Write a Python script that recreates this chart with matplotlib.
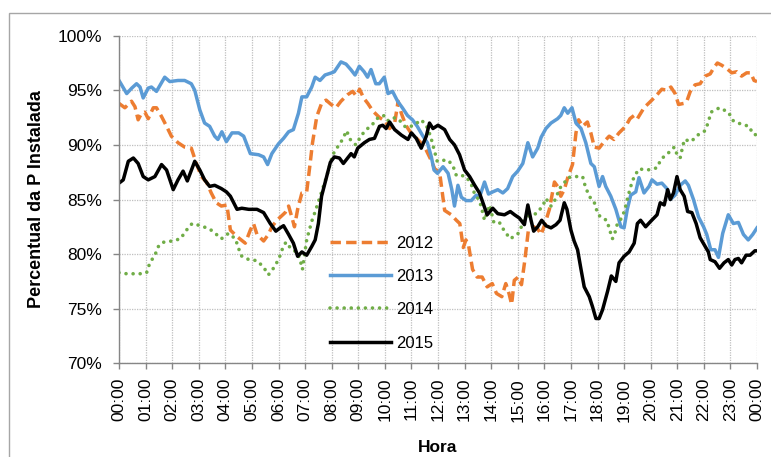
import matplotlib
matplotlib.use("Agg")
import matplotlib.pyplot as plt
from matplotlib.patches import Rectangle

plt.rcParams['font.family'] = ['Liberation Sans', 'DejaVu Sans']

# hour of day (0-24) and % of installed power
h_2012 = [0.0, 0.22, 0.47, 0.6, 0.72, 0.85, 0.97, 1.1, 1.29, 1.41, 1.6, 1.79, 1.97, 2.22, 2.47,
          2.72, 2.91, 3.1, 3.29, 3.47, 3.66, 3.85, 4.06, 4.19, 4.44, 4.75, 4.94, 5.06, 5.19, 5.44,
          5.62, 5.75, 5.94, 6.25, 6.38, 6.5, 6.6, 6.72, 6.88, 7.06, 7.19, 7.28, 7.44, 7.62, 7.79,
          7.98, 8.16, 8.35, 8.6, 8.79, 8.92, 9.05, 9.2, 9.36, 9.55, 9.8, 10.0, 10.18, 10.37, 10.5,
          10.62, 10.79, 10.98, 11.16, 11.35, 11.54, 11.72, 11.88, 12.06, 12.25, 12.5, 12.69, 12.82,
          12.95, 13.05, 13.15, 13.3, 13.47, 13.66, 13.85, 14.04, 14.2, 14.4, 14.55, 14.67, 14.77,
          14.87, 15.02, 15.14, 15.27, 15.4, 15.6, 15.75, 15.88, 16.0, 16.19, 16.38, 16.5, 16.62,
          16.75, 16.88, 17.06, 17.19, 17.29, 17.44, 17.62, 17.75, 17.88, 18.06, 18.25, 18.44, 18.62,
          18.81, 19.06, 19.22, 19.38, 19.5, 19.75, 20.0, 20.17, 20.42, 20.61, 20.76, 20.92, 21.05,
          21.24, 21.36, 21.49, 21.67, 21.86, 22.05, 22.24, 22.36, 22.51, 22.67, 22.86, 23.05, 23.24,
          23.42, 23.61, 23.76, 23.89, 24.0]
p_2012 = [93.8, 93.4, 94.0, 93.5, 92.3, 92.9, 93.0, 92.4, 93.4, 93.4, 92.6, 91.7, 90.8, 90.2, 89.8,
          89.7, 88.3, 87.1, 86.6, 85.6, 84.7, 84.4, 84.5, 82.2, 81.6, 81.0, 82.2, 82.8, 81.8, 81.2,
          81.8, 82.5, 83.1, 83.8, 84.4, 83.4, 82.5, 84.1, 85.6, 85.7, 88.3, 90.2, 92.6, 93.8, 94.1,
          93.7, 93.4, 94.0, 94.6, 94.9, 94.5, 95.1, 94.3, 93.8, 93.1, 92.5, 92.2, 91.5, 92.0, 94.0,
          92.9, 91.8, 91.1, 90.7, 90.2, 89.6, 88.7, 87.8, 87.5, 84.0, 83.6, 83.1, 82.8,
          80.6, 81.3, 80.8, 78.6, 77.9, 77.9, 77.0, 77.3, 76.4, 76.1, 77.3, 76.4, 75.4,
          77.6, 77.9, 77.2, 79.5, 82.2, 82.5, 82.3, 81.8, 82.6, 84.1, 86.6, 86.2, 85.3,
          85.9, 87.0, 88.2, 91.1, 92.3, 91.7, 92.1, 91.1, 89.8, 89.7, 90.3, 90.8, 90.5,
          91.1, 91.7, 92.4, 92.7, 92.4, 93.4, 94.0, 94.4, 95.1, 95.0, 95.3, 94.7, 93.7,
          93.8, 94.0, 94.9, 95.5, 95.6, 96.3, 96.5, 97.0, 97.5, 97.3, 97.0, 96.6, 96.7,
          96.3, 96.6, 96.6, 95.9, 95.8]

h_2013 = [0.0, 0.29, 0.48, 0.66, 0.79, 0.91, 1.1, 1.22, 1.41, 1.72, 1.91, 2.22, 2.47, 2.72, 2.85,
          3.04, 3.22, 3.41, 3.6, 3.72, 3.87, 4.04, 4.25, 4.5, 4.69, 4.94, 5.25, 5.44, 5.59, 5.75,
          6.0, 6.19, 6.38, 6.56, 6.75, 6.88, 7.06, 7.25, 7.38, 7.56, 7.75, 8.0, 8.1, 8.35, 8.54,
          8.72, 8.88, 9.04, 9.22, 9.35, 9.48, 9.66, 9.79, 9.98, 10.12, 10.29, 10.48, 10.66, 10.85,
          11.04, 11.22, 11.41, 11.6, 11.75, 11.85, 11.98, 12.19, 12.38, 12.52, 12.62, 12.75, 12.88,
          13.06, 13.25, 13.44, 13.56, 13.75, 13.9, 14.06, 14.25, 14.44, 14.62, 14.81, 15.0, 15.19,
          15.38, 15.56, 15.75, 15.88, 16.06, 16.25, 16.5, 16.62, 16.75, 16.88, 17.04, 17.19, 17.38,
          17.56, 17.75, 17.88, 18.06, 18.19, 18.31, 18.5, 18.69, 18.88, 19.0, 19.12, 19.25, 19.44,
          19.56, 19.75, 19.94, 20.05, 20.24, 20.42, 20.61, 20.74, 20.92, 21.11, 21.3, 21.42, 21.61,
          21.8, 21.99, 22.11, 22.26, 22.42, 22.55, 22.71, 22.92, 23.11, 23.3, 23.49, 23.67, 23.84,
          24.0]
p_2013 = [95.9, 94.7, 95.2, 95.6, 95.3, 94.3, 95.2, 95.3, 94.9, 96.2, 95.8, 95.9, 95.9, 95.6, 95.0,
          93.2, 92.0, 91.7, 90.8, 90.5, 91.2, 90.3, 91.1, 91.1, 90.8, 89.2, 89.1, 88.9, 88.2, 89.2,
          90.1, 90.6, 91.2, 91.4, 92.9, 94.4, 94.4, 95.3, 96.2, 95.9, 96.4, 96.6, 96.7, 97.6, 97.4,
          96.9, 96.4, 97.2, 96.7, 96.2, 96.9, 95.6, 95.6, 96.2, 94.7, 94.9, 94.0, 93.4, 92.7,
          92.3, 91.7, 90.9, 90.2, 88.9, 87.7, 87.4, 88.0, 87.4, 85.9, 84.4, 86.3, 85.2,
          84.9, 84.9, 85.4, 85.2, 86.6, 85.5, 85.7, 85.9, 85.6, 86.0, 87.1, 87.6, 88.3,
          90.2, 88.9, 89.7, 90.7, 91.5, 92.0, 92.4, 92.7, 93.4, 92.9, 93.4, 92.0, 91.5,
          90.2, 88.3, 88.0, 86.2, 87.1, 86.2, 85.3, 84.1, 82.5, 82.4, 84.1, 85.4, 85.7,
          87.0, 85.6, 86.2, 86.8, 86.4, 86.5, 86.0, 85.0, 85.4, 86.3, 86.7, 86.3, 85.0,
          83.4, 82.5, 81.8, 80.4, 80.4, 79.7, 81.9, 83.6, 82.8, 82.9, 81.8, 81.3, 81.8,
          82.4]

h_2014 = [0.0, 0.29, 0.54, 0.79, 1.04, 1.16, 1.35, 1.5, 1.69, 2.0, 2.31, 2.54, 2.75, 3.07, 3.41,
          3.62, 3.85, 4.12, 4.38, 4.5, 4.62, 4.88, 5.19, 5.44, 5.62, 5.84, 6.02, 6.15, 6.28, 6.5,
          6.69, 6.81, 6.9, 7.06, 7.15, 7.25, 7.38, 7.5, 7.62, 7.81, 8.04, 8.22, 8.41, 8.56, 8.72,
          8.91, 9.1, 9.29, 9.48, 9.7, 9.95, 10.1, 10.29, 10.5, 10.79, 10.98, 11.16, 11.35, 11.54,
          11.72, 11.85, 11.97, 12.25, 12.38, 12.56, 12.69, 12.88, 13.06, 13.25, 13.38, 13.56, 13.65,
          13.75, 13.94, 14.1, 14.31, 14.5, 14.72, 15.02, 15.31, 15.5, 15.69, 15.94, 16.06, 16.25,
          16.44, 16.56, 16.69, 16.88, 17.12, 17.44, 17.54, 17.69, 17.91, 18.0, 18.16, 18.35, 18.46,
          18.56, 18.65, 18.75, 18.94, 19.06, 19.15, 19.25, 19.38, 19.56, 19.88, 20.24, 20.39, 20.64,
          20.89, 21.01, 21.11, 21.2, 21.27, 21.52, 21.77, 22.05, 22.17, 22.27, 22.59, 22.92, 23.11,
          23.4, 23.71, 23.84, 24.0]
p_2014 = [78.3, 78.2, 78.2, 78.2, 78.3, 79.2, 79.9, 80.8, 81.1, 81.2, 81.4, 82.2, 82.8, 82.6, 82.3,
          81.9, 81.4, 81.9, 81.4, 80.5, 79.8, 79.5, 79.4, 78.8, 78.1, 78.8, 79.6, 80.5, 81.1, 80.4,
          80.2, 79.5, 78.6, 81.3, 82.1, 83.0, 83.9, 84.8, 85.7, 87.1, 89.1, 89.8, 90.5, 91.3, 90.4,
          90.0, 90.8, 91.4, 91.7, 92.4, 92.7, 92.2, 92.5, 92.4, 91.6, 91.7, 91.9, 92.3, 91.9,
          90.8, 89.6, 88.5, 88.6, 88.6, 88.1, 87.2, 87.2, 87.1, 86.4, 85.5, 84.9, 84.1,
          83.1, 84.5, 82.9, 82.9, 82.1, 81.4, 81.9, 83.4, 83.6, 83.7, 84.4, 85.1, 84.4,
          85.1, 86.0, 86.3, 87.0, 87.1, 87.1, 86.2, 85.3, 84.6, 83.7, 83.3, 83.1, 82.2,
          81.4, 81.9, 82.8, 83.4, 84.4, 85.3, 86.2, 87.1, 87.8, 87.7, 87.9, 88.7, 89.2,
          89.8, 89.0, 88.8, 89.8, 90.5, 90.3, 90.9, 91.3, 92.1, 93.0, 93.4, 93.0, 92.2,
          91.9, 91.7, 91.0, 90.9]

h_2015 = [0.0, 0.16, 0.35, 0.54, 0.72, 0.91, 1.1, 1.35, 1.6, 1.79, 2.04, 2.22, 2.41, 2.57, 2.85,
          3.04, 3.22, 3.41, 3.6, 3.85, 4.04, 4.19, 4.44, 4.62, 4.88, 5.19, 5.44, 5.69, 5.9, 6.06,
          6.19, 6.38, 6.56, 6.72, 6.88, 7.06, 7.25, 7.38, 7.5, 7.62, 7.81, 7.95, 8.1, 8.29, 8.44,
          8.6, 8.73, 8.85, 8.98, 9.23, 9.42, 9.61, 9.8, 9.92, 10.05, 10.18, 10.37, 10.62, 10.87,
          11.0, 11.18, 11.37, 11.56, 11.68, 11.81, 12.0, 12.25, 12.44, 12.62, 12.81, 13.0, 13.19,
          13.38, 13.56, 13.69, 13.85, 14.06, 14.25, 14.5, 14.72, 14.88, 15.06, 15.25, 15.38, 15.5,
          15.6, 15.75, 15.9, 16.06, 16.25, 16.44, 16.59, 16.75, 16.85, 17.0, 17.12, 17.25, 17.38,
          17.5, 17.69, 17.81, 17.94, 18.06, 18.19, 18.38, 18.52, 18.69, 18.81, 19.0, 19.19, 19.38,
          19.5, 19.62, 19.81, 20.0, 20.24, 20.36, 20.51, 20.64, 20.74, 20.86, 20.99, 21.11, 21.26,
          21.39, 21.55, 21.71, 21.86, 22.05, 22.17, 22.24, 22.42, 22.59, 22.76, 22.92, 23.05, 23.17,
          23.3, 23.42, 23.59, 23.74, 23.92, 24.0]
p_2015 = [86.5, 86.8, 88.5, 88.8, 88.3, 87.1, 86.8, 87.1, 88.2, 87.7, 85.9, 86.8, 87.6, 86.7, 88.5,
          87.7, 86.8, 86.2, 86.3, 86.0, 85.7, 85.3, 84.1, 84.2, 84.1, 84.1, 83.8, 82.8, 82.1, 82.4,
          82.6, 81.8, 81.0, 79.8, 80.2, 79.9, 80.7, 81.3, 82.8, 85.3, 87.1, 88.4, 88.9, 88.8, 88.3,
          88.8, 89.2, 88.9, 89.7, 90.2, 90.5, 90.6, 91.7, 91.8, 91.5, 92.1, 91.4, 90.9, 90.5,
          91.1, 90.6, 89.7, 90.8, 92.0, 91.5, 91.8, 91.4, 90.5, 90.0, 89.1, 87.7, 87.1,
          86.3, 85.6, 84.7, 83.6, 84.2, 83.7, 83.6, 83.9, 83.6, 83.3, 82.7, 84.5, 83.1,
          82.1, 82.5, 83.1, 82.6, 82.4, 82.7, 83.1, 84.7, 84.1, 82.2, 81.2, 80.4, 78.6,
          77.0, 76.1, 75.2, 74.1, 74.1, 74.9, 76.6, 78.0, 77.5, 79.2, 79.8, 80.2, 81.0,
          82.8, 83.1, 82.5, 83.0, 83.6, 84.7, 84.5, 85.9, 85.0, 85.6, 87.1, 85.9, 85.3,
          83.9, 83.8, 82.8, 81.5, 80.7, 80.2, 79.5, 79.3, 78.7, 79.2, 79.5, 79.0, 79.5,
          79.6, 79.2, 79.9, 79.9, 80.3, 80.3]

hour_ticks = list(range(25))
hour_labels = ["%02d:00" % (h % 24) for h in hour_ticks]
pct_ticks = [70, 75, 80, 85, 90, 95, 100]
pct_labels = ["70%", "75%", "80%", "85%", "90%", "95%", "100%"]

fig = plt.figure(figsize=(7.71, 4.57), dpi=100)
ax = fig.add_axes([119 / 771, 1 - 363.3 / 457, 638 / 771, 327.6 / 457])

# chart border (Excel chart area)
fig.patches.append(Rectangle((8.5 / 771, -0.1), 1.2, 1 - 13 / 457 + 0.1, transform=fig.transFigure,
                             fill=False, edgecolor='#a6a6a6', linewidth=1.0))

ax.plot(h_2012, p_2012, color='#ED7D31', lw=2.5, linestyle=(0, (3, 1.5)), label='2012')
ax.plot(h_2013, p_2013, color='#5B9BD5', lw=2.5, label='2013')
ax.plot(h_2014, p_2014, color='#70AD47', lw=2.6, linestyle=(0, (0.01, 1.95)),
        dash_capstyle='round', label='2014')
ax.plot(h_2015, p_2015, color='black', lw=2.5, label='2015')

ax.set_xlim(0, 24)
ax.set_ylim(70, 100)
ax.set_xticks(hour_ticks)
ax.set_xticklabels(hour_labels, rotation=90, fontsize=12.5)
ax.set_yticks(pct_ticks)
ax.set_yticklabels(pct_labels, fontsize=12.5)

ax.grid(True, color='#bfbfbf', linestyle=(0, (1, 1)), linewidth=0.9)
ax.set_axisbelow(True)
for s in ['top', 'right']:
    ax.spines[s].set_visible(False)
for s in ['left', 'bottom']:
    ax.spines[s].set_color('#868686')
    ax.spines[s].set_linewidth(1.0)
ax.tick_params(axis='both', colors='#868686', labelcolor='black', length=4, width=1.0)
ax.tick_params(axis='y', pad=8.5)
ax.tick_params(axis='x', pad=6.5)

ax.set_ylabel('Percentual da P Instalada', fontsize=13, fontweight='bold')
ax.yaxis.set_label_coords(-0.116, 0.5)
ax.set_xlabel('Hora', fontsize=12.5, fontweight='bold')
ax.xaxis.set_label_coords(0.5, -0.234)

leg = ax.legend(loc='upper left', bbox_to_anchor=(0.33, 0.39), frameon=False, fontsize=12,
                handlelength=3.7, handletextpad=0.3, labelspacing=1.1, borderpad=0,
                borderaxespad=0)

fig.savefig('out.png', dpi=100)
